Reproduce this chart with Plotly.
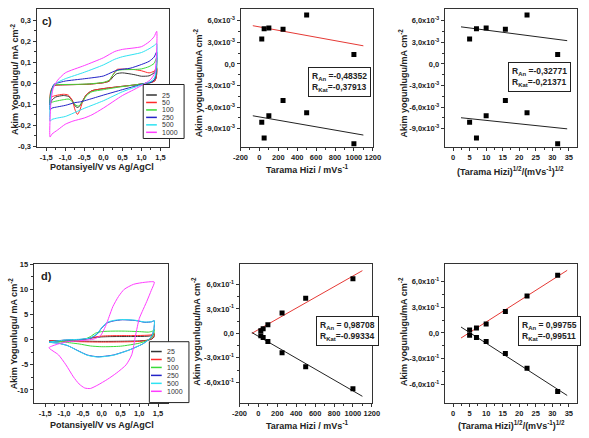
import numpy as np
import plotly.graph_objects as go

W, H = 589, 438
FONT = "Liberation Sans"

# ---------------- data ----------------
scan_rates = [25, 50, 100, 250, 500, 1000]
rate_labels = ["25", "50", "100", "250", "500", "1000"]
cv_colors = ["#333333", "#FF2A2A", "#3ADB3A", "#2323C8", "#2EE3F2", "#FF3CFF"]

# peak currents (mA cm^-2) vs scan rate
c_anodic = [3.45e-3, 4.9e-3, 5.0e-3, 4.8e-3, 6.8e-3, 1.3e-3]
c_cathodic = [-8.1e-3, -10.3e-3, -7.2e-3, -5.1e-3, -6.8e-3, -11.1e-3]
d_anodic = [0.033, 0.057, 0.105, 0.25, 0.43, 0.67]
d_cathodic = [-0.028, -0.052, -0.10, -0.238, -0.41, -0.68]

fit_span_rate = [-70, 1100]
fit_span_sqrt = [2.4, 34.5]

r_text_c_rate = "R<sub>An</sub> =-0,48352<br>R<sub>Kat</sub>=-0,37913"
r_text_c_sqrt = "R<sub>An</sub> =-0,32771<br>R<sub>Kat</sub>=-0,21371"
r_text_d_rate = "R<sub>An</sub> = 0,98708<br>R<sub>Kat</sub>=-0.99334"
r_text_d_sqrt = "R<sub>An</sub> = 0,99755<br>R<sub>Kat</sub>=-0,99511"

# ---- CV curves, panel c (E / V, I / mA cm^-2) ----
c25_E = [-1.40, -1.38, -1.30, -1.20, -0.80, -0.40, 0.00, 0.15, 0.25, 0.35, 0.50, 0.80, 1.00, 1.20, 1.33, 1.40,
         1.39, 1.35, 1.25, 1.10, 0.80, 0.40, 0.00, -0.30, -0.45, -0.55, -0.62, -0.68, -0.74, -0.82, -0.92, -1.05, -1.25, -1.35, -1.40]
c25_I = [-0.103, -0.045, -0.012, -0.008, -0.006, -0.004, 0.003, 0.010, 0.030, 0.046, 0.050, 0.042, 0.034, 0.036, 0.050, 0.070,
         0.030, 0.012, 0.004, 0.000, -0.008, -0.016, -0.025, -0.035, -0.055, -0.085, -0.108, -0.115, -0.108, -0.080, -0.062, -0.058, -0.065, -0.080, -0.103]
c50_E = c25_E
c50_I = [-0.072, -0.035, -0.010, -0.008, -0.006, -0.004, 0.003, 0.012, 0.040, 0.066, 0.068, 0.066, 0.060, 0.050, 0.058, 0.075,
         0.030, 0.012, 0.004, 0.000, -0.008, -0.016, -0.025, -0.035, -0.055, -0.090, -0.130, -0.148, -0.128, -0.080, -0.056, -0.052, -0.058, -0.064, -0.072]
c100_E = [-1.40, -1.38, -1.30, -1.20, -0.80, -0.40, 0.00, 0.15, 0.25, 0.35, 0.50, 0.80, 1.00, 1.20, 1.33, 1.40,
          1.39, 1.35, 1.25, 1.10, 0.80, 0.40, 0.00, -0.30, -0.45, -0.55, -0.65, -0.72, -0.80, -0.90, -1.05, -1.25, -1.35, -1.40]
c100_I = [-0.095, -0.040, -0.008, -0.006, -0.005, -0.003, 0.005, 0.015, 0.040, 0.060, 0.065, 0.066, 0.069, 0.080, 0.095, 0.123,
          0.050, 0.020, 0.005, 0.000, -0.008, -0.018, -0.030, -0.040, -0.060, -0.090, -0.108, -0.105, -0.090, -0.075, -0.078, -0.085, -0.090, -0.095]
c250_E = [-1.40, -1.38, -1.30, -1.20, -1.00, -0.50, 0.00, 0.25, 0.40, 0.70, 1.00, 1.20, 1.33, 1.40,
          1.39, 1.35, 1.25, 1.10, 0.80, 0.50, 0.00, -0.40, -0.60, -0.75, -1.00, -1.20, -1.35, -1.40]
c250_I = [-0.127, -0.050, -0.005, 0.002, 0.011, 0.022, 0.035, 0.055, 0.065, 0.072, 0.090, 0.105, 0.125, 0.150,
          0.060, 0.020, 0.005, 0.000, -0.015, -0.030, -0.056, -0.078, -0.088, -0.092, -0.105, -0.112, -0.118, -0.127]
c500_E = [-1.40, -1.38, -1.30, -1.20, -1.00, -0.50, 0.00, 0.30, 0.50, 1.00, 1.20, 1.33, 1.40,
          1.39, 1.35, 1.25, 1.10, 0.80, 0.50, 0.00, -0.50, -1.00, -1.20, -1.35, -1.40]
c500_I = [-0.180, -0.060, -0.010, 0.005, 0.022, 0.053, 0.088, 0.115, 0.127, 0.147, 0.165, 0.180, 0.190,
          0.080, 0.030, 0.010, 0.000, -0.020, -0.040, -0.083, -0.119, -0.158, -0.165, -0.172, -0.180]
c1000_E = [-1.40, -1.38, -1.32, -1.20, -1.00, -0.50, 0.00, 0.30, 0.50, 1.00, 1.20, 1.33, 1.40,
           1.39, 1.35, 1.25, 1.10, 0.80, 0.50, 0.00, -0.30, -0.50, -0.80, -1.00, -1.20, -1.35, -1.40]
c1000_I = [-0.256, -0.100, -0.025, 0.015, 0.050, 0.085, 0.122, 0.152, 0.162, 0.175, 0.198, 0.222, 0.248,
           0.120, 0.050, 0.020, 0.000, -0.030, -0.058, -0.118, -0.150, -0.165, -0.180, -0.195, -0.222, -0.242, -0.256]

# ---- CV curves, panel d ----
d25_E = [-1.40, -1.00, -0.60, -0.40, -0.20, 0.00, 0.20, 0.40, 0.80, 1.10, 1.30, 1.40,
         1.39, 1.33, 1.20, 1.00, 0.50, 0.00, -0.50, -1.00, -1.40]
d25_I = [-0.2, -0.15, -0.05, 0.15, 0.40, 0.55, 0.60, 0.62, 0.62, 0.65, 0.75, 1.1,
         0.5, 0.1, -0.12, -0.25, -0.32, -0.35, -0.30, -0.22, -0.2]
d50_E = d25_E
d50_I = [-0.25, -0.2, -0.05, 0.20, 0.50, 0.70, 0.78, 0.80, 0.82, 0.85, 0.95, 1.3,
         0.7, 0.2, -0.15, -0.35, -0.45, -0.48, -0.42, -0.3, -0.25]
d100_E = [-1.40, -1.00, -0.60, -0.45, -0.30, -0.16, 0.00, 0.30, 0.60, 1.00, 1.25, 1.35, 1.40,
          1.39, 1.33, 1.20, 1.00, 0.50, 0.00, -0.30, -0.60, -1.00, -1.40]
d100_I = [-0.4, -0.25, -0.15, 0.1, 0.6, 1.3, 1.6, 1.7, 1.7, 1.6, 1.5, 1.7, 2.0,
          1.2, 0.4, -0.2, -0.7, -1.3, -1.4, -1.25, -0.85, -0.5, -0.4]
d250_E = [-1.40, -1.00, -0.55, -0.30, -0.12, 0.00, 0.14, 0.30, 0.55, 0.90, 1.15, 1.33, 1.40,
          1.39, 1.34, 1.25, 1.09, 0.75, 0.31, -0.10, -0.38, -0.64, -0.90, -1.15, -1.40]
d250_I = [-0.5, -0.1, 0.05, 0.3, 1.1, 2.3, 3.3, 3.7, 3.95, 3.8, 3.45, 3.55, 3.75,
          2.1, 0.8, 0.0, -0.85, -2.0, -3.05, -3.4, -3.05, -2.15, -1.2, -0.7, -0.5]
d500_E = [-1.40, -1.00, -0.55, -0.30, -0.12, 0.00, 0.14, 0.30, 0.55, 0.90, 1.15, 1.33, 1.40,
          1.39, 1.34, 1.25, 1.09, 0.75, 0.31, -0.10, -0.38, -0.64, -0.90, -1.15, -1.40]
d500_I = [-0.5, -0.1, 0.1, 0.35, 1.2, 2.4, 3.4, 3.8, 4.0, 3.85, 3.5, 3.6, 3.8,
          2.2, 0.8, 0.0, -0.85, -2.0, -3.1, -3.45, -3.1, -2.2, -1.2, -0.7, -0.5]
d1000_E = [-1.40, -1.15, -0.90, -0.55, -0.20, -0.03, 0.10, 0.20, 0.30, 0.45, 0.60, 0.85, 1.15, 1.40,
           1.32, 1.20, 1.08, 1.00, 0.90, 0.80, 0.65, 0.40, 0.15, -0.10, -0.30, -0.45, -0.60, -0.75, -0.95, -1.15, -1.40]
d1000_I = [-1.6, -0.85, -0.40, -0.20, 0.15, 0.80, 2.6, 4.6, 6.6, 8.6, 10.0, 11.0, 11.4, 11.45,
           9.8, 7.6, 5.6, 4.2, 0.8, -3.0, -5.0, -6.6, -7.9, -9.0, -9.7, -9.6, -8.8, -7.4, -5.0, -3.0, -1.6]

cv_c = [(c25_E, c25_I), (c50_E, c50_I), (c100_E, c100_I), (c250_E, c250_I), (c500_E, c500_I), (c1000_E, c1000_I)]
cv_d = [(d25_E, d25_I), (d50_E, d50_I), (d100_E, d100_I), (d250_E, d250_I), (d500_E, d500_I), (d1000_E, d1000_I)]

# ---------------- helpers ----------------
def px(x):
    return x / W

def py(y):
    return 1 - y / H

def comma(v, nd):
    return f"{v:.{nd}f}".replace(".", ",")

def sci(v, exp):
    if abs(v) < 1e-12:
        return "0,0"
    m = v / 10 ** exp
    return f"{comma(m, 1)}x10<sup>{exp}</sup>"

def mids(vals):
    return [(a + b) / 2 for a, b in zip(vals[:-1], vals[1:])]

tickfont = dict(family=FONT, size=7.5, color="#222", weight="bold")

def axis(domain, rng, tv, tt, anchor):
    return dict(domain=domain, range=rng, anchor=anchor, tickmode="array", tickvals=tv, ticktext=tt,
                showline=True, mirror=True, linecolor="#333", linewidth=1, ticks="outside", ticklen=3,
                tickwidth=1, tickcolor="#333", showgrid=False, zeroline=False, tickfont=tickfont,
                minor=dict(tickvals=mids(tv), ticks="outside", ticklen=2, tickwidth=1, tickcolor="#333"))

fig = go.Figure()

# CV panels
for (E, I), col, lab in zip(cv_c, cv_colors, rate_labels):
    fig.add_trace(go.Scatter(x=E, y=I, mode="lines", line=dict(color=col, width=1, shape="spline", smoothing=0.6),
                             name=lab, showlegend=False, xaxis="x", yaxis="y"))
for (E, I), col, lab in zip(cv_d, cv_colors, rate_labels):
    fig.add_trace(go.Scatter(x=E, y=I, mode="lines", line=dict(color=col, width=1, shape="spline", smoothing=0.6),
                             name=lab, showlegend=False, xaxis="x4", yaxis="y4"))

sqrt_rates = list(np.sqrt(scan_rates))

def fit_line(x, y, span):
    k, b = np.polyfit(x, y, 1)
    return span, [k * s + b for s in span]

panels = [
    ("x2", "y2", scan_rates, c_anodic, c_cathodic, fit_span_rate, "#E53935", "#222"),
    ("x3", "y3", sqrt_rates, c_anodic, c_cathodic, fit_span_sqrt, "#222", "#222"),
    ("x5", "y5", scan_rates, d_anodic, d_cathodic, fit_span_rate, "#E53935", "#222"),
    ("x6", "y6", sqrt_rates, d_anodic, d_cathodic, fit_span_sqrt, "#E53935", "#222"),
]
for xa, ya, xs, an, ca, span, c_an, c_ca in panels:
    for ys, col in ((an, c_an), (ca, c_ca)):
        fx, fy = fit_line(xs, ys, span)
        fig.add_trace(go.Scatter(x=fx, y=fy, mode="lines", line=dict(color=col, width=1),
                                 showlegend=False, xaxis=xa, yaxis=ya))
        fig.add_trace(go.Scatter(x=xs, y=ys, mode="markers", marker=dict(symbol="square", size=5, color="black"),
                                 showlegend=False, xaxis=xa, yaxis=ya))

# axes
cv_x_t = [-1.5, -1.0, -0.5, 0.0, 0.5, 1.0, 1.5]
c_y_t = [-0.3, -0.2, -0.1, 0.0, 0.1, 0.2, 0.3]
d_y_t = [-10, -5, 0, 5, 10, 15]
rate_t = [-200, 0, 200, 400, 600, 800, 1000, 1200]
sqrt_t = [0, 5, 10, 15, 20, 25, 30, 35]
c_fit_y_t = [-9e-3, -6e-3, -3e-3, 0.0, 3e-3, 6e-3]
d_fit_y_t = [-0.6, -0.3, 0.0, 0.3, 0.6]

top_dom = [py(146), py(5)]
bot_dom = [py(406), py(265)]

layout = dict(
    width=W, height=H, margin=dict(l=0, r=0, t=0, b=0), paper_bgcolor="white", plot_bgcolor="white",
    xaxis=axis([px(29.3), px(165)], [-1.755, 1.71], cv_x_t, [comma(v, 1) for v in cv_x_t], "y"),
    yaxis=axis(top_dom, [-0.305, 0.355], c_y_t, [comma(v, 1) for v in c_y_t], "x"),
    xaxis2=axis([px(239), px(375)], [-200, 1200], rate_t, [str(v) for v in rate_t], "y2"),
    yaxis2=axis(top_dom, [-0.01159, 0.00764], c_fit_y_t, [sci(v, -3) for v in c_fit_y_t], "x2"),
    xaxis3=axis([px(449), px(585)], [-2.5, 37.5], sqrt_t, [str(v) for v in sqrt_t], "y3"),
    yaxis3=axis(top_dom, [-0.01159, 0.00764], c_fit_y_t, [sci(v, -3) for v in c_fit_y_t], "x3"),
    xaxis4=axis([px(26.3), px(164.3)], [-1.81, 1.76], cv_x_t, [comma(v, 1) for v in cv_x_t], "y4"),
    yaxis4=axis(bot_dom, [-12.5, 15], d_y_t, [str(v) for v in d_y_t], "x4"),
    xaxis5=axis([px(238), px(374)], [-200, 1200], rate_t, [str(v) for v in rate_t], "y5"),
    yaxis5=axis(bot_dom, [-0.85, 0.85], d_fit_y_t, [sci(v, -1) for v in d_fit_y_t], "x5"),
    xaxis6=axis([px(449), px(585)], [-2.5, 37.5], sqrt_t, [str(v) for v in sqrt_t], "y6"),
    yaxis6=axis(bot_dom, [-0.81, 0.80], d_fit_y_t, [sci(v, -1) for v in d_fit_y_t], "x6"),
)
fig.update_layout(**layout)

ann = []
shapes = []
tfont = dict(family=FONT, size=9, color="#222", weight="bold")

def text(x, y, s, angle=0, size=9, xanchor="center"):
    ann.append(dict(x=px(x), y=py(y), xref="paper", yref="paper", text=s, showarrow=False, textangle=angle,
                    xanchor=xanchor, yanchor="middle", font=dict(tfont, size=size)))

ytitle_cv = "Akim Yogunlugu/ mA cm<sup>-2</sup>"
ytitle_fit = "Akim yogunlugu/mA cm<sup>-2</sup>"
xt_cv = "Potansiyel/V vs Ag/AgCl"
xt_rate = "Tarama Hizi / mVs<sup>-1</sup>"
xt_sqrt = "(Tarama Hizi)<sup>1/2</sup>/(mVs<sup>-1</sup>)<sup>1/2</sup>"

text(6.5, 77, ytitle_cv, -90)
text(195, 80, ytitle_fit, -90)
text(406, 80, ytitle_fit, -90)
text(5.5, 336, ytitle_cv, -90)
text(193, 333, ytitle_fit, -90)
text(406, 333, ytitle_fit, -90)
text(97, 166, xt_cv)
text(307, 168, xt_rate)
text(517, 170, xt_sqrt)
text(97, 429, xt_cv)
text(307, 429, xt_rate)
text(518, 429, xt_sqrt)
text(33, 17, "c)", size=11, xanchor="left")
text(32, 277, "d)", size=11, xanchor="left")

# R boxes
for x0, y0, s in ((308, 64, r_text_c_rate), (514, 59, r_text_c_sqrt), (317, 318, r_text_d_rate), (524, 318, r_text_d_sqrt)):
    ann.append(dict(x=px(x0), y=py(y0), xref="paper", yref="paper", text=s, showarrow=False, align="left",
                    xanchor="left", yanchor="top", bordercolor="#222", borderwidth=1, borderpad=3, bgcolor="white",
                    font=dict(tfont, size=8.5)))

# CV legends
def cv_legend(bx0, bx1, by0, by1, row0, dy, lx0, lx1, tx):
    shapes.append(dict(type="rect", xref="paper", yref="paper", x0=px(bx0), x1=px(bx1), y0=py(by1), y1=py(by0),
                       line=dict(color="#222", width=1), fillcolor="white", layer="above"))
    for i, (lab, col) in enumerate(zip(rate_labels, cv_colors)):
        yy = row0 + dy * i
        shapes.append(dict(type="line", xref="paper", yref="paper", x0=px(lx0), x1=px(lx1), y0=py(yy), y1=py(yy),
                           line=dict(color=col, width=1.5), layer="above"))
        ann.append(dict(x=px(tx), y=py(yy), xref="paper", yref="paper", text=lab, showarrow=False,
                        xanchor="left", yanchor="middle", font=dict(family=FONT, size=7, color="#333")))

cv_legend(139, 181, 82, 137, 92.7, 7.6, 142, 153, 156)
cv_legend(145.3, 186, 344, 406, 354, 8.1, 147, 158, 161)

fig.update_layout(annotations=ann, shapes=shapes)
fig.write_html("out.html")
